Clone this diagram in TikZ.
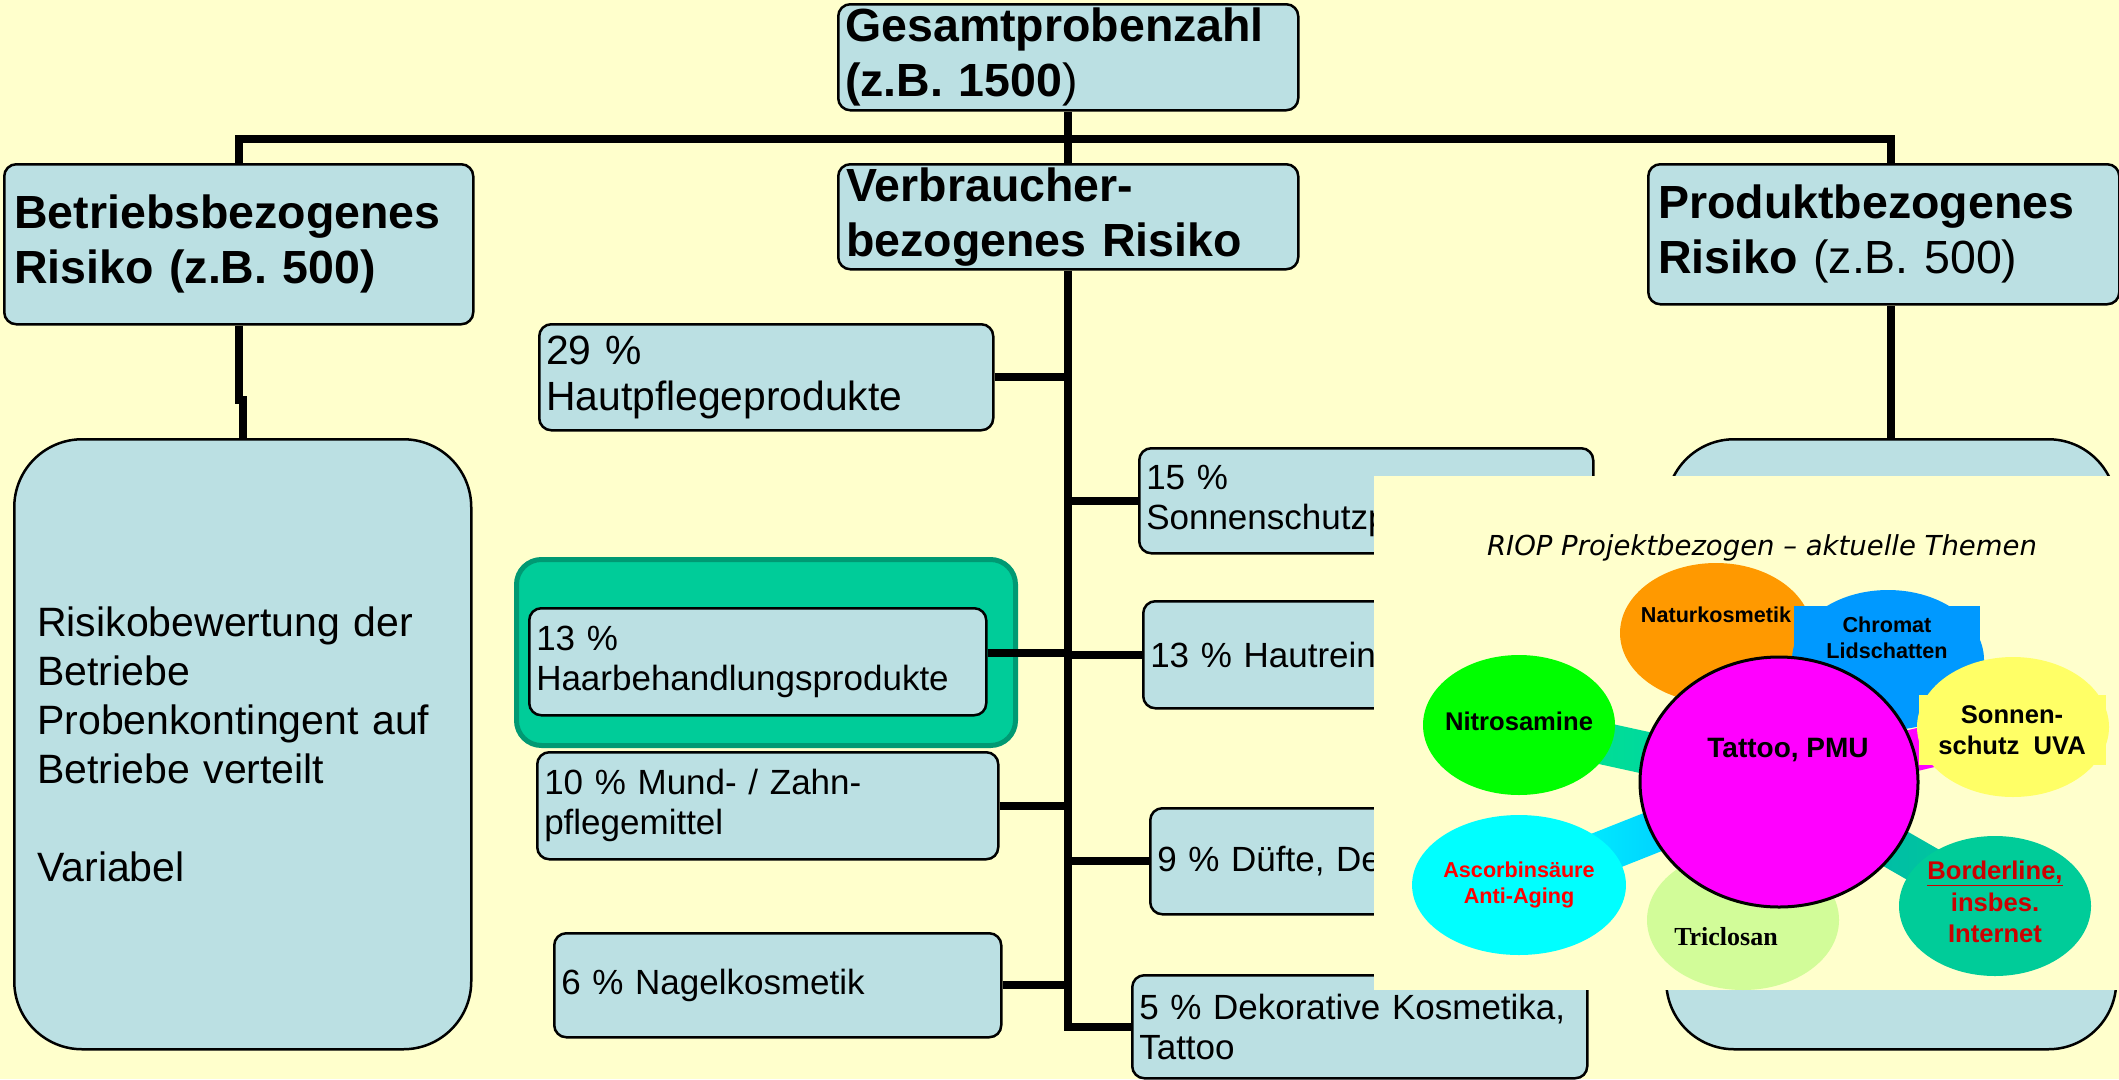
\documentclass[tikz,border=0pt]{standalone}
\usepackage{fontspec}
\setmainfont{Liberation Sans}
\newfontfamily\themafont{DejaVu Sans}
\newfontfamily\serifschrift{Liberation Serif}
\usetikzlibrary{shapes.geometric, calc}

\definecolor{hintergrund}{HTML}{FFFFCC}
\definecolor{kastenblau}{HTML}{BBE0E3}
\definecolor{markgruen}{HTML}{00CC99}
\definecolor{markrand}{HTML}{009973}
\definecolor{natur}{HTML}{FF9900}
\definecolor{chromblau}{HTML}{0099FF}
\definecolor{sonnengelb}{HTML}{FFFF66}
\definecolor{nitrogruen}{HTML}{00FF00}
\definecolor{tattoorosa}{HTML}{FF00FF}
\definecolor{ascorbcyan}{HTML}{00FFFF}
\definecolor{triclogruen}{HTML}{D2FC99}
\definecolor{borderteal}{HTML}{00CC99}
\definecolor{dunkelrot}{HTML}{CC0000}
\definecolor{bandgruen}{HTML}{00E68A}
\definecolor{bandtuerkis}{HTML}{00CCB0}
\definecolor{bandblau}{HTML}{00B0FF}
\definecolor{bandteal}{HTML}{00B0B0}

\newcommand{\kopf}{\fontsize{46.5}{55}\selectfont\bfseries}
\newcommand{\teil}{\fontsize{35}{40}\selectfont}
\newcommand{\teilgross}{\fontsize{40.8}{46}\selectfont}
\newcommand{\lang}{\fontsize{41}{49}\selectfont}
\newcommand{\blasenklein}{\fontsize{21.6}{26.5}\selectfont\bfseries}
\newcommand{\blasengross}{\fontsize{25.6}{31.5}\selectfont\bfseries}

\pgfdeclarelayer{grund}
\pgfdeclarelayer{baender}
\pgfsetlayers{grund,baender,main}

\tikzset{
  kasten/.style={draw, line width=2.5pt, fill=kastenblau, rounded corners=12pt,
    anchor=north west, align=left, inner xsep=7pt, inner ysep=0pt},
  gross/.style={kasten, rounded corners=68pt, inner xsep=23pt},
  linie/.style={line width=8pt},
  blase/.style={ellipse, minimum width=192pt, minimum height=140pt, inner sep=0pt},
  feld/.style={rectangle, inner sep=0pt, align=center}
}

\begin{document}
\begin{tikzpicture}[x=1pt, y=-1pt]
\useasboundingbox (0,0) rectangle (2119,1079);

\begin{pgfonlayer}{grund}
\fill[hintergrund] (0,0) rectangle (2119,1079);

% Kopf der Gliederung
\node[kasten, font=\kopf, text width=446pt, minimum height=106pt] (gesamt) at (837,3)
  {Gesamtprobenzahl\\(z.B. 1500{\mdseries)}};
\node[kasten, font=\kopf, text width=444pt, minimum height=105pt, inner xsep=8pt] (verbraucher) at (837,163)
  {Verbraucher-\\bezogenes Risiko};
\node[kasten, font=\kopf, text width=449pt, minimum height=160pt, inner xsep=10pt] (betrieb) at (3,163)
  {Betriebsbezogenes\\Risiko (z.B. 500)};
\node[kasten, font=\kopf, text width=451pt, minimum height=140pt, inner xsep=10pt] (produkt) at (1647,163)
  {Produktbezogenes\\Risiko {\mdseries (z.B. 500)}};

\node[gross, font=\lang, text width=411pt, minimum height=610pt] (grosslinks) at (13,438)
  {Risikobewertung der\\Betriebe\\Probenkontingent auf\\Betriebe verteilt\\[49pt]Variabel};
\node[gross, text width=404pt, minimum height=610pt] (grossrechts) at (1665,438) {};

% Anteile links
\node[kasten, font=\teilgross, text width=440pt, minimum height=106pt] (c29) at (538,323)
  {29 \%\\Hautpflegeprodukte};
\node[draw=markrand, line width=5pt, fill=markgruen, rounded corners=25pt, anchor=north west,
  minimum width=499pt, minimum height=186pt] (haarrahmen) at (514,557) {};
\node[kasten, font=\teil, text width=443pt, minimum height=107pt] (c13h) at (528,607)
  {13 \%\\Haarbehandlungsprodukte};
\node[kasten, font=\teil, text width=447pt, minimum height=107pt] (c10) at (536,751)
  {10 \% Mund- / Zahn-\\pflegemittel};
\node[kasten, font=\teil, text width=433pt, minimum height=104pt] (c6) at (553,932)
  {6 \% Nagelkosmetik};

% Anteile rechts
\node[kasten, font=\teil, text width=440pt, minimum height=105pt] (c15) at (1138,447)
  {15 \%\\Sonnenschutzp};
\node[kasten, font=\teil, text width=436pt, minimum height=107pt] (c13r) at (1142,600)
  {13 \% Hautreini};
\node[kasten, font=\teil, text width=429pt, minimum height=106pt] (c9) at (1149,807)
  {9 \% Düfte, De};
\node[kasten, font=\teil, text width=441pt, minimum height=103pt] (c5) at (1131,974)
  {5 \% Dekorative Kosmetika,\\Tattoo};

% Verbindungen
\path (gesamt.south) ++(0,27) coordinate (knoten);
\draw[linie] (gesamt.south) -- (verbraucher.north);
\draw[linie] (betrieb.north) |- (knoten) -| (grossrechts.north |- produkt.north);
\draw[linie] (betrieb.south) -- ++(0,74) -| (grosslinks.north);
\draw[linie] (grossrechts.north |- produkt.south) -- (grossrechts.north);
\draw[linie] (verbraucher.south) |- (c5.west);
\foreach \k in {c29, c10, c6}
  \draw[linie] (\k.east) -- (\k.east -| verbraucher.south);
\draw[linie] (haarrahmen.east -| c13h.east) -- (haarrahmen.east -| verbraucher.south);
\foreach \k in {c15, c13r, c9}
  \draw[linie] (\k.west) -- (\k.west -| verbraucher.south);

% Einschub
\node[fill=hintergrund, anchor=north west, inner sep=0pt, minimum width=745pt, minimum height=514pt]
  (einschub) at (1374,476) {};
\node[font=\themafont\itshape\fontsize{27.5}{33}\selectfont, anchor=base] (titel) at (1762,555)
  {RIOP Projektbezogen – aktuelle Themen};
\end{pgfonlayer}

\node[blase, fill=natur, label={[font=\blasenklein, yshift=18pt]center:Naturkosmetik}] (natur) at (1716,633) {};
\node[blase, fill=chromblau] (chromat) at (1888,660) {};
\node[feld, fill=chromblau, font=\blasenklein, minimum width=186pt, minimum height=64pt] (chromatfeld) at (1887,638)
  {Chromat\\Lidschatten};
\node[blase, fill=sonnengelb] (sonne) at (2013,727) {};
\node[feld, fill=sonnengelb, font=\blasengross, minimum width=187pt, minimum height=70pt] (sonnenfeld) at (2012,730)
  {Sonnen-\\schutz\ \ UVA};
\node[blase, fill=nitrogruen, label={[font=\blasengross, yshift=4pt]center:Nitrosamine}] (nitro) at (1519,725) {};
\node[blase, fill=ascorbcyan, text=red, font=\blasenklein, align=center] (ascorb) at (1519,885)
  {Ascorbinsäure\\Anti-Aging};
\node[blase, fill=triclogruen,
  label={[font=\serifschrift\bfseries\fontsize{26}{30}\selectfont, xshift=-17pt, yshift=-17pt]center:Triclosan}]
  (triclo) at (1743,920) {};
\node[blase, fill=borderteal,
  label={[text=dunkelrot, font=\blasengross, align=center, yshift=4pt]center:\underline{Borderline,}\\insbes.\\Internet}]
  (border) at (1995,906) {};
\node[ellipse, draw=black, line width=3pt, fill=tattoorosa, minimum width=278pt, minimum height=250pt, inner sep=0pt,
  label={[font=\fontsize{28}{32}\selectfont\bfseries, xshift=9pt, yshift=32pt]center:Tattoo, PMU}] (tattoo) at (1779,782) {};

% Baender zur Mitte
\begin{pgfonlayer}{baender}
\foreach \von/\fa/\fb in {nitro/bandgruen/bandtuerkis, ascorb/ascorbcyan/bandblau,
                          border/bandteal/borderteal, sonne/tattoorosa/tattoorosa}
  \shade[left color=\fa, right color=\fb]
    ($(\von.center)!21pt!90:(tattoo.center)$) -- ($(tattoo.center)!21pt!-90:(\von.center)$)
    -- ($(tattoo.center)!21pt!90:(\von.center)$) -- ($(\von.center)!21pt!-90:(tattoo.center)$) -- cycle;
\end{pgfonlayer}
\end{tikzpicture}
\end{document}
